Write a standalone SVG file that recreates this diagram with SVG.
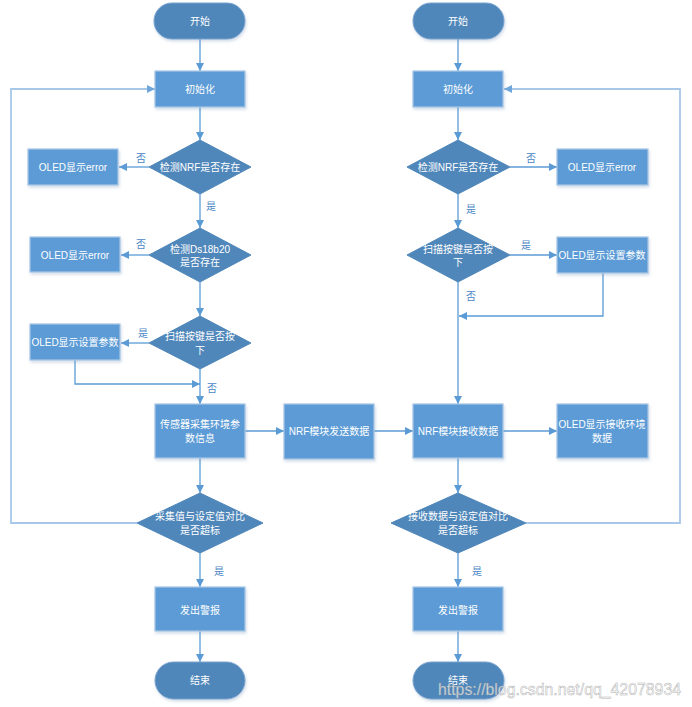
<svg xmlns="http://www.w3.org/2000/svg" width="692" height="707" viewBox="0 0 692 707">
<defs>
<marker id="ah" viewBox="0 0 10 10" refX="10" refY="5" markerWidth="8" markerHeight="8" markerUnits="userSpaceOnUse" orient="auto"><path d="M0,0 L10,5 L0,10 Z" fill="#5b9bd5"/></marker>
<marker id="ahl" viewBox="0 0 10 10" refX="10" refY="5" markerWidth="8" markerHeight="8" markerUnits="userSpaceOnUse" orient="auto"><path d="M0,0 L10,5 L0,10 Z" fill="#6fa6db"/></marker>
<filter id="sh" x="-10%" y="-10%" width="130%" height="140%"><feDropShadow dx="1" dy="2" stdDeviation="1.5" flood-color="#7f9cbf" flood-opacity="0.35"/></filter>
</defs>
<style>
.term{fill:#4f87ba;stroke:#7aa3cf;stroke-width:1;filter:url(#sh)}
.box{fill:#5b9bd5;stroke:#a8c6e6;stroke-width:1.2;filter:url(#sh)}
.dia{fill:#4f87ba;stroke:#4f87ba;stroke-width:1}
.t{font-family:"Liberation Sans","Noto Sans CJK SC",sans-serif;font-size:10px;fill:#ffffff;text-anchor:middle;dominant-baseline:central}
.lb{font-family:"Liberation Sans","Noto Sans CJK SC",sans-serif;font-size:10px;fill:#4a86c5;text-anchor:middle;dominant-baseline:central}
.c{fill:none;stroke:#5b9bd5;stroke-width:1.3;marker-end:url(#ah)}
.fb{fill:none;stroke:#a7c8e8;stroke-width:1.8;marker-end:url(#ahl)}
.wm{font-family:"Liberation Sans","DejaVu Sans",sans-serif;font-size:16px;fill:#ffffff;fill-opacity:0.75;stroke:#9a9a9a;stroke-width:0.5;stroke-opacity:0.8}
</style>
<g id="connectors">
<path class="c" d="M200,39 V71"/>
<path class="c" d="M200,107 V140"/>
<path class="c" d="M149,167 H119"/>
<path class="c" d="M200,194 V228"/>
<path class="c" d="M149,255 H121"/>
<path class="c" d="M200,282 V316"/>
<path class="c" d="M149,343 H121"/>
<path class="c" d="M200,369 V404"/>
<path class="c" d="M75,360 V384 H200"/>
<path class="c" d="M245,431 H284"/>
<path class="c" d="M374,431 H413"/>
<path class="c" d="M200,458 V493"/>
<path class="fb" d="M137,523 H11 V89 H155"/>
<path class="c" d="M200,553 V587"/>
<path class="c" d="M200,631 V662"/>
<path class="c" d="M458,39 V71"/>
<path class="c" d="M458,107 V140"/>
<path class="c" d="M510,167 H557"/>
<path class="c" d="M458,194 V228"/>
<path class="c" d="M510,255 H557"/>
<path class="c" d="M603,273 V316 H459"/>
<path class="c" d="M458,282 V404"/>
<path class="c" d="M503,431 H557"/>
<path class="c" d="M458,458 V493"/>
<path class="fb" d="M526,523 H680 V89 H504"/>
<path class="c" d="M458,553 V587"/>
<path class="c" d="M458,631 V662"/>
</g>
<g id="labels">
<text class="lb" x="141" y="158">否</text>
<text class="lb" x="211" y="206">是</text>
<text class="lb" x="141" y="244">否</text>
<text class="lb" x="143" y="333">是</text>
<text class="lb" x="212" y="388">否</text>
<text class="lb" x="219" y="571">是</text>
<text class="lb" x="531" y="158">否</text>
<text class="lb" x="471" y="209">是</text>
<text class="lb" x="526" y="245">是</text>
<text class="lb" x="471" y="296">否</text>
<text class="lb" x="477" y="571">是</text>
</g>
<g id="L_start"><rect class="term" x="154" y="3" width="91" height="36" rx="18"/><text class="t" x="200" y="21">开始</text></g>
<g id="L_init"><rect class="box" x="155" y="71" width="90" height="36"/><text class="t" x="200" y="89">初始化</text></g>
<g id="L_d1"><polygon class="dia" points="200,140 251,167 200,194 149,167"/><text class="t" x="200" y="167">检测NRF是否存在</text></g>
<g id="L_err1"><rect class="box" x="28" y="149" width="90" height="36"/><text class="t" x="73" y="167">OLED显示error</text></g>
<g id="L_d2"><polygon class="dia" points="200,228 251,255 200,282 149,255"/><text class="t" x="200" y="249">检测Ds18b20</text><text class="t" x="200" y="262">是否存在</text></g>
<g id="L_err2"><rect class="box" x="30" y="237" width="90" height="35"/><text class="t" x="75" y="255">OLED显示error</text></g>
<g id="L_d3"><polygon class="dia" points="200,316 251,343 200,369 149,343"/><text class="t" x="200" y="336">扫描按键是否按</text><text class="t" x="200" y="350">下</text></g>
<g id="L_set"><rect class="box" x="30" y="324" width="90" height="36"/><text class="t" x="75" y="342">OLED显示设置参数</text></g>
<g id="L_sensor"><rect class="box" x="155" y="404" width="90" height="54"/><text class="t" x="200" y="424">传感器采集环境参</text><text class="t" x="200" y="438">数信息</text></g>
<g id="M_send"><rect class="box" x="284" y="404" width="90" height="55"/><text class="t" x="329" y="431">NRF模块发送数据</text></g>
<g id="L_d4"><polygon class="dia" points="200,493 263,523 200,553 137,523"/><text class="t" x="200" y="516">采集值与设定值对比</text><text class="t" x="200" y="530">是否超标</text></g>
<g id="L_alarm"><rect class="box" x="155" y="587" width="90" height="44"/><text class="t" x="200" y="610">发出警报</text></g>
<g id="L_end"><rect class="term" x="155" y="662" width="90" height="37" rx="18.5"/><text class="t" x="200" y="680">结束</text></g>
<g id="R_start"><rect class="term" x="413" y="3" width="91" height="36" rx="18"/><text class="t" x="458" y="21">开始</text></g>
<g id="R_init"><rect class="box" x="413" y="71" width="90" height="36"/><text class="t" x="458" y="89">初始化</text></g>
<g id="R_d1"><polygon class="dia" points="458,140 510,167 458,194 407,167"/><text class="t" x="458" y="167">检测NRF是否存在</text></g>
<g id="R_err"><rect class="box" x="557" y="149" width="91" height="36"/><text class="t" x="602" y="167">OLED显示error</text></g>
<g id="R_d2"><polygon class="dia" points="458,228 510,255 458,282 407,255"/><text class="t" x="458" y="249">扫描按键是否按</text><text class="t" x="458" y="262">下</text></g>
<g id="R_set"><rect class="box" x="557" y="237" width="91" height="36"/><text class="t" x="602" y="255">OLED显示设置参数</text></g>
<g id="R_recv"><rect class="box" x="413" y="404" width="90" height="54"/><text class="t" x="458" y="431">NRF模块接收数据</text></g>
<g id="R_show"><rect class="box" x="557" y="404" width="91" height="54"/><text class="t" x="602" y="424">OLED显示接收环境</text><text class="t" x="602" y="438">数据</text></g>
<g id="R_d4"><polygon class="dia" points="458,493 526,523 458,553 391,523"/><text class="t" x="458" y="516">接收数据与设定值对比</text><text class="t" x="458" y="530">是否超标</text></g>
<g id="R_alarm"><rect class="box" x="413" y="587" width="90" height="44"/><text class="t" x="458" y="610">发出警报</text></g>
<g id="R_end"><rect class="term" x="413" y="662" width="91" height="37" rx="18.5"/><text class="t" x="458" y="680">结束</text></g>
<text class="wm" x="438" y="695" textLength="243" lengthAdjust="spacingAndGlyphs">https://blog.csdn.net/qq_42078934</text>
</svg>
